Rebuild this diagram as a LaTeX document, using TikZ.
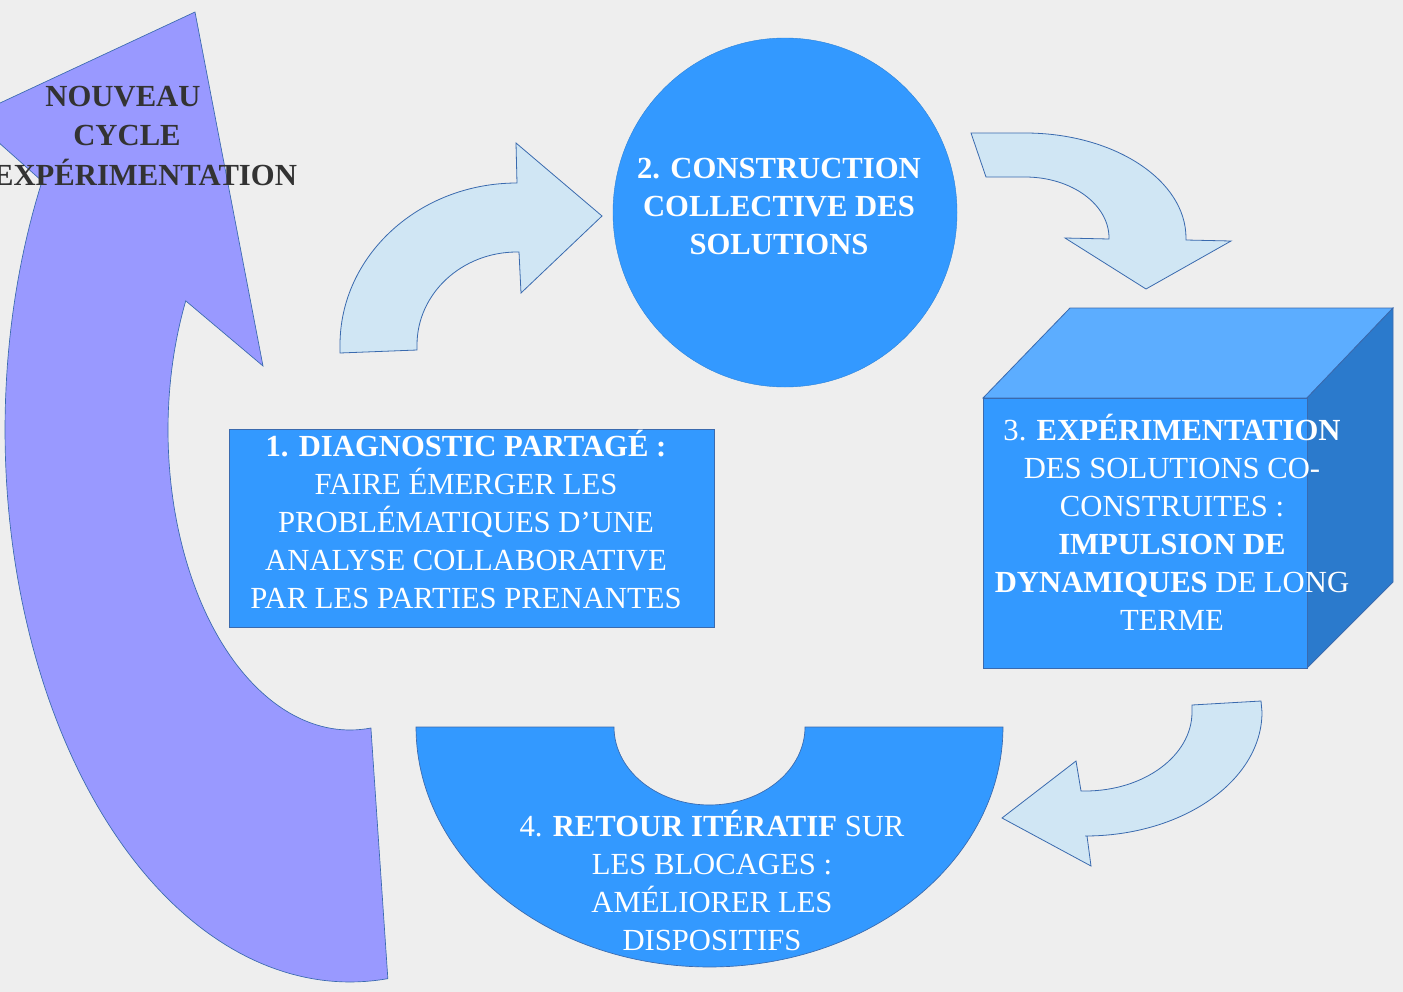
\documentclass[tikz,border=0pt]{standalone}
\usepackage{fontspec}
\setmainfont{Liberation Serif}
\definecolor{bg}{HTML}{EEEEEE}
\definecolor{purp}{HTML}{9999FF}
\definecolor{lblue}{HTML}{D0E6F4}
\definecolor{blu}{HTML}{3399FF}
\definecolor{bluetop}{HTML}{5CADFF}
\definecolor{blueside}{HTML}{2B7ACC}
\definecolor{edge}{HTML}{3A6AAE}
\definecolor{txtdark}{HTML}{333333}
\tikzset{
  lbl/.style={font=\fontsize{23}{28.5}\selectfont, align=center, inner sep=0pt, text=white},
  darklbl/.style={font=\fontsize{23}{28.5}\selectfont\bfseries, inner sep=0pt, text=txtdark},
  bigarrow/.style={fill=purp, draw=edge, line width=0.5pt},
  smallarrow/.style={fill=lblue, draw=edge, line width=0.6pt, line join=miter},
  bluebody/.style={fill=blu, draw=edge, line width=0.6pt},
}
\begin{document}
\begin{tikzpicture}[x=0.75pt,y=-0.75pt]
\useasboundingbox (0,0) rectangle (1403,992);
\fill[bg] (0,0) rectangle (1403,992);
\clip (0,0) rectangle (1403,992);

% big purple return arrow
\path[bigarrow] plot[domain=206.8:83.7, samples=100] ({350+345*cos(\x)},{430+552*sin(\x)})
  -- plot[domain=83.4:205.5, samples=80] ({350+182*cos(\x)},{430+300*sin(\x)})
  -- (263,366) -- (195,12) -- (-30,117) -- cycle;
\node[darklbl] (t0a) at (123,97) {NOUVEAU};
\node[darklbl] (t0b) at (127,135) {CYCLE};
\node[darklbl] (t0c) at (145,172) {EXPÉRIMENTATION};

% arrow 1 -> 2
\path[smallarrow] (340,353) -- (340,345) .. controls (340,255.5) and (419.2,183) .. (517,183)
  -- (516,143) -- (602,216) -- (521,293) -- (519,252) -- (517,252)
  .. controls (461.8,252) and (417,293.6) .. (417,345) -- (417,350) -- cycle;

% arrow 2 -> 3
\path[smallarrow] (971,133) -- (1025,133) .. controls (1113.9,133) and (1186,180) .. (1186,238)
  -- (1186,240) -- (1231,241) -- (1146,289) -- (1065,238) -- (1109,239) -- (1109,238)
  .. controls (1109,204.3) and (1071.4,177) .. (1025,177) -- (986,177) -- cycle;

% arrow 3 -> 4
\path[smallarrow] (1261,701) -- (1262,712) .. controls (1262,780.5) and (1182.8,836) .. (1085,836)
  -- (1087,836) -- (1091,866) -- (1002,818) -- (1076,761) -- (1081,791) -- (1085,791)
  .. controls (1144.1,791) and (1192,755.6) .. (1192,712) -- (1192,705) -- cycle;

% 1. box
\path[bluebody] (229,429) rectangle (714,627);
\node[lbl] (t1) at (466,519) {\textbf{1. DIAGNOSTIC PARTAGÉ :}\\FAIRE ÉMERGER LES\\PROBLÉMATIQUES D’UNE\\ANALYSE COLLABORATIVE\\PAR LES PARTIES PRENANTES};

% 2. circle
\path[fill=blu, draw=blu!85!black, line width=0.3pt] (785,212.5) ellipse [x radius=172, y radius=174.5];
\node[lbl, font=\fontsize{23}{28.5}\selectfont\bfseries] (t2) at (779,206) {2. CONSTRUCTION\\COLLECTIVE DES\\SOLUTIONS};

% 3. cube
\path[fill=bluetop, draw=edge, line width=0.6pt] (983,398) -- (1070,308) -- (1393,308) -- (1307,398) -- cycle;
\path[fill=blueside, draw=edge, line width=0.6pt] (1307,398) -- (1393,308) -- (1393,582) -- (1307,668) -- cycle;
\path[bluebody] (983,398) rectangle (1307,668);
\node[lbl] (t3) at (1172,522) {3. \textbf{EXPÉRIMENTATION}\\DES SOLUTIONS CO-\\CONSTRUITES :\\\textbf{IMPULSION DE}\\\textbf{DYNAMIQUES} DE LONG\\TERME};

% 4. half ring
\path[fill=blu, draw=edge, line width=0.5pt] plot[domain=180:0, samples=120] ({709.5+293.5*cos(\x)},{727+240*sin(\x)})
  -- plot[domain=0:180, samples=60] ({709.5+95.5*cos(\x)},{727+78*sin(\x)}) -- cycle;
\node[lbl] (t4) at (712,880) {4. \textbf{RETOUR ITÉRATIF} SUR\\LES BLOCAGES :\\AMÉLIORER LES\\DISPOSITIFS};
\end{tikzpicture}
\end{document}
